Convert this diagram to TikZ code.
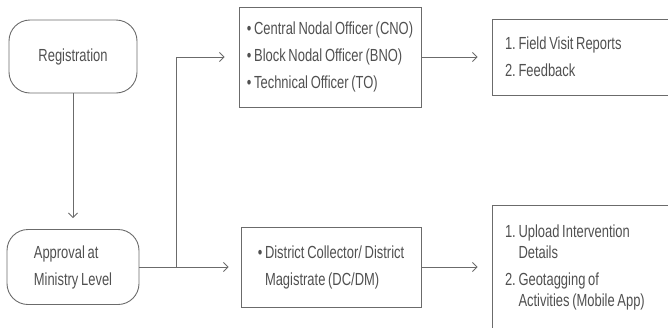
\documentclass[tikz,border=0pt]{standalone}
\usepackage{fontspec}
\setmainfont[FakeStretch=0.74,WordSpace=0.75]{Liberation Sans}
\usetikzlibrary{arrows.meta}
\definecolor{txt}{HTML}{505050}
\definecolor{ln}{HTML}{6B6B6B}
\tikzset{
  box/.style={draw=ln, line width=0.9pt, text=txt, font={\fontsize{17.5}{27}\selectfont}, align=left, inner sep=0pt},
  rbox/.style={box, rounded corners=21pt},
  arr/.style={draw=ln, line width=0.9pt, -{Straight Barb[length=4.5pt,width=9pt]}},
}
\begin{document}
\begin{tikzpicture}[x=1pt,y=-1pt]
\useasboundingbox (0,0) rectangle (668,327);
\clip (0,0) rectangle (668,327);
\node[rbox, minimum width=128pt, minimum height=73pt] (reg) at (73,56.5) {Registration};
\node[rbox, minimum width=132pt, minimum height=75pt] (appr) at (73,267) {Approval at\\Ministry Level};
\node[box, minimum width=182pt, minimum height=100pt] (off) at (330,57)
  {\textbullet~Central Nodal Officer (CNO)\\\textbullet~Block Nodal Officer (BNO)\\\textbullet~Technical Officer (TO)};
\node[box, minimum width=180pt, minimum height=80pt] (dc) at (331,267)
  {\textbullet~District Collector/ District\\\hphantom{\textbullet~}Magistrate (DC/DM)};
\node[box, inner xsep=13pt, minimum height=76pt] (fv) at (606,57)
  {\parbox{202pt}{\raggedright 1.~Field Visit Reports\\2.~Feedback}};
\node[box, inner xsep=13pt, minimum height=124pt, font={\fontsize{17.5}{21}\selectfont}] (up) at (606,267)
  {\parbox{202pt}{\raggedright 1.~Upload Intervention\\\hphantom{1.~}Details\\[6pt]2.~Geotagging of\\\hphantom{2.~}Activities (Mobile App)}};
\coordinate (j) at (176,267);
\draw[arr, shorten >=11pt] (reg) -- (appr);
\draw[arr, shorten >=12pt] (appr) -- (dc);
\draw[arr, shorten >=14pt] (j) |- (off.west);
\draw[arr, shorten >=14pt] (off.east) -- (fv.west);
\draw[arr, shorten >=14pt] (dc.east) -- (up.west);
\end{tikzpicture}
\end{document}
